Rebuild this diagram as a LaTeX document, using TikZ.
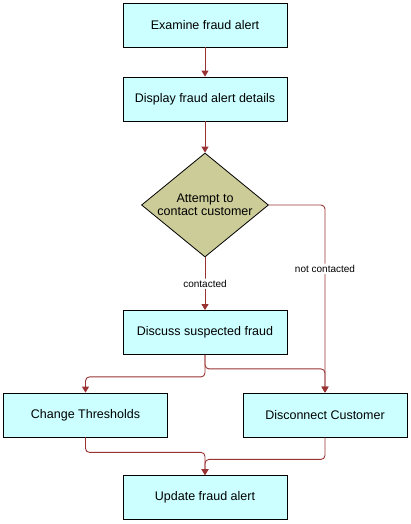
\documentclass[tikz,border=0pt]{standalone}
\usepackage{fontspec}
\setmainfont{Liberation Sans}
\usetikzlibrary{shapes.geometric,arrows.meta}
\definecolor{boxfill}{HTML}{CCFFFF}
\definecolor{decfill}{HTML}{CCCC99}
\definecolor{linkred}{HTML}{993333}
\begin{document}
\begin{tikzpicture}[x=1pt,y=-1pt,
  proc/.style={draw=black,line width=0.8pt,fill=boxfill,minimum width=164pt,minimum height=44pt,inner sep=0pt,font=\fontsize{12.5}{14}\selectfont},
  decis/.style={diamond,draw=black,line width=0.8pt,fill=decfill,minimum width=127pt,minimum height=104pt,inner sep=0pt,font=\fontsize{12.5}{14}\selectfont},
  link/.style={draw=linkred,line width=0.9pt,rounded corners=4pt,-{Triangle[width=7pt,length=6pt]}},
  lbl/.style={fill=white,inner sep=1.5pt,font=\fontsize{10}{12}\selectfont}]
\useasboundingbox (0,0) rectangle (410,524);
\node[proc] (ex) at (205,25) {Examine fraud alert};
\node[proc] (disp) at (205,99) {Display fraud alert details};
\node[decis] (dec) at (205,205) {\smash{\makebox[0pt]{\raisebox{-4pt}{\begin{tabular}{@{}c@{}}Attempt to\\[-1pt]contact customer\end{tabular}}}}};
\node[proc] (disc) at (205,332.5) {Discuss suspected fraud};
\node[proc] (ch) at (85.5,415) {Change Thresholds};
\node[proc] (dc) at (325,415) {Disconnect Customer};
\node[proc] (up) at (205,497.5) {Update fraud alert};
\draw[link] (ex.south) -- (disp.north);
\draw[link] (disp.south) -- (dec.north);
\draw[link] (dec.south) -- node[lbl]{contacted} (disc.north);
\draw[link] (dec.east) -| node[lbl,pos=0.67]{not contacted} (dc.north);
\draw[link] (disc.south) -- ++(0,22) -| (ch.north);
\draw[link] (disc.south) -- ++(0,14) -| (dc.north);
\draw[link] (ch.south) -- ++(0,15) -| (up.north);
\draw[link] (dc.south) -- ++(0,22) -| (up.north);
\end{tikzpicture}
\end{document}
